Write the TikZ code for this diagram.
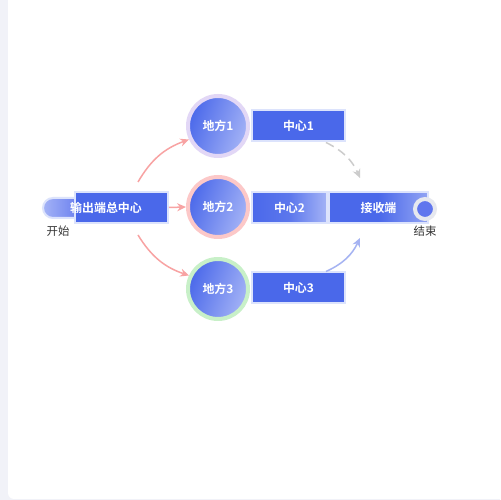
\documentclass[tikz,border=0pt]{standalone}
\usepackage{fontspec}
\newfontfamily\cjk[BoldFont={Noto Sans CJK SC Bold}]{Noto Sans CJK SC}
\usepackage{xcolor}
\usepackage{tikz}
\usetikzlibrary{arrows.meta}
\definecolor{panelgray}{HTML}{F1F2F8}
\definecolor{mainblue}{HTML}{4A68EA}
\definecolor{midblue}{HTML}{6076EE}
\definecolor{paleblue}{HTML}{A4B3F6}
\definecolor{boxedge}{HTML}{DCE3FC}
\definecolor{ringA}{HTML}{E2D7F6}
\definecolor{ringB}{HTML}{FCC8C8}
\definecolor{ringC}{HTML}{C8F0C8}
\definecolor{ringend}{HTML}{E6E8EF}
\definecolor{redline}{HTML}{F8A3A3}
\definecolor{grayline}{HTML}{CCCCCC}
\definecolor{blueline}{HTML}{A5B3F2}
\tikzset{place/.style={circle,minimum size=1.2cm,line width=0.08cm,draw=#1,
shade,shading=axis,left color=mainblue,middle color=midblue,right color=paleblue,shading angle=70,text=white,
font=\cjk\bfseries\fontsize{6.8}{8}\selectfont},
boxnode/.style={rectangle,minimum height=0.62cm,line width=0.04cm,draw=boxedge,fill=mainblue,
text=white,font=\cjk\bfseries\fontsize{6.8}{8}\selectfont},
lbl/.style={text=black!80,font=\cjk\fontsize{6.5}{8}\selectfont},
link/.style={line width=0.03cm,-{Stealth[length=5pt,width=4.5pt]}}}

\begin{document}
\begin{tikzpicture}[x=0.02cm,y=0.02cm]
    % Panel
    \useasboundingbox (0,0) rectangle (500,500);
    \fill[panelgray] (0,0) rectangle (500,500);
    \fill[white,rounded corners=0.12cm] (8,1) rectangle (520,520);

    % Start and hub
    \node[rectangle,rounded corners=0.2cm,minimum width=0.84cm,minimum height=0.4cm,line width=0.04cm,
      draw=boxedge,left color=paleblue,right color=midblue] (start) at (64,292) {};
    \node[lbl] (startlbl) at (58,269) {开始};
    \node[boxnode,minimum width=1.86cm] (hub) at (121.5,292.5) {};
    \node[text=white,font=\cjk\bfseries\fontsize{6.8}{8}\selectfont] (hubtxt) at (106,292.5) {输出端总中心};

    % Places and centres
    \node[place=ringA] (p1) at (218,374) {地方1};
    \node[place=ringB] (p2) at (218,293) {地方2};
    \node[place=ringC] (p3) at (218,211) {地方3};
    \node[boxnode,minimum width=1.86cm] (c1) at (298.5,374) {中心1};
    \node[boxnode,minimum width=1.5cm,left color=mainblue,right color=paleblue,middle color=mainblue!80!paleblue] (c2) at (289.5,292.5) {中心2};
    \node[boxnode,minimum width=1.86cm] (c3) at (298.5,212) {中心3};
    \node[boxnode,minimum width=1.98cm,left color=mainblue,right color=paleblue!80!mainblue,middle color=mainblue] (recv) at (378.5,292.5) {接收端};

    % End
    \node[circle,minimum size=0.4cm,line width=0.08cm,draw=ringend,fill=midblue] (end) at (425,291) {};
    \node[lbl] (endlbl) at (425,269) {结束};

    % Connectors
    \coordinate (a1) at (138,318);
    \coordinate (a3) at (138,265);
    \coordinate (r1) at (360,322);
    \coordinate (r3) at (360,262);
    \draw[link,redline] (a1) to[bend left=20] (p1.205);
    \draw[link,redline] (hub.east) -- (p2.west);
    \draw[link,redline] (a3) to[bend right=20] (p3.155);
    \draw[link,grayline,dashed,dash pattern=on 5pt off 3pt] ([xshift=-0.4cm]c1.south east) to[bend left=20] (r1);
    \draw[link,blueline] ([xshift=-0.4cm]c3.north east) to[bend right=20] (r3);
\end{tikzpicture}
\end{document}
